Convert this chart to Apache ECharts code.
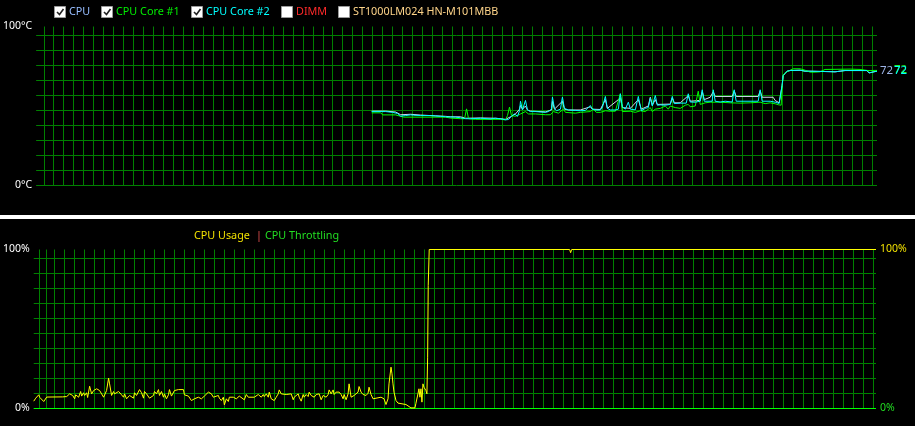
<!DOCTYPE html>
<html><head><meta charset="utf-8">
<script src="https://cdn.jsdelivr.net/npm/echarts@6/dist/echarts.min.js"></script>
<style>html,body{margin:0;padding:0;background:#000;}#c{width:915px;height:426px;}</style>
</head><body><div id="c"></div>
<script>
// ---------- DATA ----------
const tempSeriesNames = ['CPU', 'CPU Core #1', 'CPU Core #2'];
const legendNames = ['CPU', 'CPU Core #1', 'CPU Core #2', 'DIMM', 'ST1000LM024 HN-M101MBB'];
const legendChecked = [true, true, true, false, false];
const loadSeriesNames = ['CPU Usage', 'CPU Throttling'];
const tempAxisLabels = ['0°C', '100°C'];
const pctAxisLabels = ['0%', '100%'];

// temperatures: [elapsed seconds, °C]
const cpuTemp = [[336,46.8],[350,46.8],[360,46.2],[365,44.5],[375,44.8],[376,45.5],[385,44.3],[400,43.8],[410,43.5],[415,43.2],[425,43.2],[430,42.3],[445,42.5],[460,42.3],[470,41.6],[476,43.5],[480,45],[484,48],[485,50.3],[487,48],[490,50],[492,47.5],[495,46.8],[510,46.3],[516,47.5],[517,53],[519,48],[527,53],[529,48],[533,47.5],[545,47.5],[555,49.5],[557,48],[565,47.8],[570,54],[572,48.5],[585,55],[587,49],[595,48.5],[603,54],[606,48],[613,50],[615,55.5],[617,50.5],[620,54],[622,51],[635,51.2],[637,55],[639,52],[645,52],[653,56.5],[655,53],[665,53.5],[667,59],[669,54],[675,55.5],[678,59],[680,56],[697,56],[699,59.5],[701,56],[723,56],[725,59.5],[727,55.5],[738,55.5],[740,53.5],[744,52],[746,51.8],[747,63],[748,69],[750,70.5],[752,71.9],[755,72.3],[765,72.5],[770,71.9],[772,71.3],[774,71.9],[776,71.3],[795,71.6],[797,70.4],[800,71.5],[805,71.9],[810,72.3],[832,72.3],[834,70.8],[836,71.9],[842,72]];
const core1Temp = [[336,45.7],[345,45.7],[347,44.4],[360,44.4],[365,43.5],[368,43],[410,43],[415,42.4],[425,42],[429,42],[431,48.2],[433,42],[440,41.6],[465,41.6],[470,41.3],[472,44],[474,49.3],[476,44],[480,43.5],[485,45],[490,46.5],[493,45],[500,45],[510,44.5],[515,44.5],[518,46.5],[520,47.5],[523,45.5],[525,46],[528,48],[530,46],[540,45.5],[545,46],[555,46.5],[558,48],[561,46],[565,46],[570,47],[575,46.7],[580,46.7],[585,57.7],[587,46.5],[595,46.7],[600,46],[605,47],[610,46.5],[615,49],[617,46.5],[620,48],[625,48.5],[630,50],[633,48],[635,50],[640,49],[645,48.5],[650,50.5],[653,51],[655,49.5],[660,50],[663,59.3],[665,51],[670,52],[675,52.4],[685,52.4],[695,52],[705,51.8],[715,52],[725,52.4],[730,51.5],[735,52],[740,51.4],[743,50.8],[746,50.5],[747,62],[748,69],[750,71],[752,72],[755,72.5],[758,73.4],[765,73.4],[770,72.5],[775,71.3],[780,71.3],[785,71.5],[790,73],[815,73.2],[825,73],[833,72.3],[835,73],[842,72.4]];
const core2Temp = [[336,46.5],[350,46.5],[357,46],[362,45.3],[365,43.6],[370,44],[375,44.4],[376,45.5],[378,44.2],[385,44],[395,44],[405,43.5],[410,43.2],[420,43],[425,42.6],[430,42],[435,42],[445,42.3],[455,41.9],[460,42.3],[465,42],[470,41.3],[473,41.5],[476,43.5],[479,45],[482,43.5],[484,47],[485,53],[487,47.5],[489,48.5],[490,53.5],[492,47.5],[495,46.5],[500,46.5],[510,46],[513,46.5],[516,48],[517,55.6],[519,48.5],[521,47],[522,46],[525,48],[527,55.6],[529,48.5],[533,47.5],[540,47.2],[545,47],[550,47.2],[552,48.5],[555,50.3],[557,48],[561,47.4],[565,47.5],[567,49],[570,56],[572,48.5],[575,47.5],[580,47.5],[583,48],[585,57.7],[587,49.5],[590,48],[593,52.4],[595,48],[600,47.6],[603,56],[606,47],[610,48.5],[613,49],[615,55],[617,50],[619,49.5],[620,56.6],[622,50.5],[625,50.7],[630,50.5],[635,51],[637,56],[639,51.5],[645,51.8],[651,51.8],[653,57.7],[655,52.5],[660,52.4],[665,53],[667,60.2],[669,53],[677,53],[678,60.2],[680,53],[685,52.5],[690,53],[697,52.5],[699,60.2],[701,53],[723,53],[725,60.2],[727,53],[735,53],[740,52.4],[744,51.6],[746,51.6],[747,63],[748,69.2],[750,70.5],[752,71.9],[755,72.3],[765,72.5],[770,71.9],[772,71.3],[774,71.9],[776,71.3],[795,71.6],[797,70.4],[800,71.5],[805,71.9],[810,72.3],[832,72.3],[834,70.8],[836,71.9],[842,71.9]];

// load: [elapsed seconds, %]
const cpuUsage = [[0,4.6],[2,6.5],[5,8.6],[6,7],[8,5.9],[10,4.4],[12,4.4],[13,7.2],[15,7.3],[29,7.3],[31,6.9],[33,7.5],[35,8.3],[36,9.2],[39,8.2],[41,6.1],[42,8.6],[45,7.1],[47,10.7],[48,7.8],[50,9.9],[51,8.2],[53,9.9],[54,6.9],[56,14],[58,9.2],[60,11.3],[61,10.3],[63,12.4],[65,11.9],[66,11.3],[68,9.2],[70,7.1],[71,6.5],[73,11.3],[75,19.1],[76,15.5],[78,8.2],[80,10.7],[81,9.2],[83,10.3],[85,10.7],[86,10.7],[88,8.6],[90,7.1],[91,9.2],[93,6.1],[95,5.0],[96,8.2],[98,8.6],[100,6.5],[101,9.9],[103,8.2],[105,8.6],[106,11.9],[108,9.9],[110,6.5],[111,10.7],[113,9.2],[115,8.2],[116,6.5],[118,6.5],[120,8.2],[121,10.7],[123,9.2],[125,11.9],[126,8.2],[128,10.7],[130,7.1],[131,9.2],[133,6.1],[135,8.6],[136,11.9],[138,7.8],[140,7.8],[141,11.3],[143,10.7],[145,11.9],[150,11.9],[151,8.6],[153,8.2],[155,7.8],[158,5.0],[161,6.1],[165,7.1],[168,6.1],[171,7.8],[175,10.3],[178,9.2],[180,7.1],[181,7.8],[185,8.2],[186,6.5],[188,5.0],[190,7.1],[191,2.3],[193,6.1],[195,4.4],[196,7.1],[198,6.1],[200,7.1],[201,7.8],[203,6.1],[205,6.5],[206,7.8],[208,7.1],[211,5.5],[213,8.8],[215,7.1],[221,7.1],[223,8.2],[225,8.8],[226,8.2],[228,7.1],[230,8.8],[231,7.5],[233,9.2],[235,7.1],[236,10.3],[238,6.1],[240,7.1],[241,5.0],[243,7.1],[245,9.2],[246,11.7],[248,9.2],[250,8.8],[253,8.8],[255,9.2],[258,9.2],[260,5.5],[261,7.1],[263,8.2],[265,9.2],[266,7.1],[268,4.6],[270,8.8],[271,7.1],[273,8.8],[275,7.5],[276,10.3],[278,8.2],[280,8.8],[281,7.1],[283,8.8],[285,8.2],[286,9.2],[288,5.5],[290,8.2],[291,7.5],[293,7.1],[295,8.8],[296,11.7],[298,9.2],[300,11.7],[301,8.8],[303,10.3],[305,9.2],[306,10.3],[308,8.8],[310,6.1],[311,8.8],[313,5.5],[315,9.2],[316,15.5],[318,7.1],[320,7.1],[321,8.2],[323,8.8],[325,10.3],[326,13.8],[328,10.3],[330,8.8],[331,8.8],[333,8.2],[335,9.6],[336,13.4],[338,8.8],[340,6.1],[341,7.1],[348,7.1],[350,8.2],[351,6.1],[353,2.5],[355,6.1],[356,15.5],[358,26.0],[359,21.8],[360,15.5],[361,10.3],[363,5.0],[365,3.4],[366,2.5],[373,2.5],[375,2.0],[378,0.4],[382,0.4],[383,3.3],[385,9.2],[386,12.4],[387,7.1],[388,12.4],[389,4.0],[390,15.5],[391,13.4],[393,11.3],[394,9.2],[394.7,32.3],[395.3,77.4],[396.3,100],[537,100],[538,98],[539,100],[844,100]];
const cpuThrottling = [[0,0],[844,0]];

// ---------- LAYOUT / STYLE ----------
const FONT = '"Noto Sans", "Open Sans", "DejaVu Sans", sans-serif';
const GRID_COLOR = '#008000';
const STEP = 100 * 15 / 159;   // grid rows every 15 px of a 159 px tall plot
const topVLines = [8]; for (let v = 17; v <= 837; v += 10) topVLines.push(v);
const botVLines = [6, 13]; for (let v = 21; v <= 841; v += 10) botVLines.push(v);

const tempColors = ['#d2d8ee', '#00ff00', '#00ffff'];
const tempLabelColors = ['#9db4e6', '#22ee22', '#00ffff'];
const legendTextColors = ['#97bdff', '#00ee00', '#00ffff', '#ff2a2a', '#ffd58a'];

function xAxisCfg(grid, max, vals) {
  return { gridIndex: grid, type: 'value', min: 0, max: max,
    axisLine: { show: false }, axisLabel: { show: false },
    axisTick: { show: false, customValues: vals },
    splitLine: { show: true, showMinLine: true, showMaxLine: true, lineStyle: { color: GRID_COLOR, width: 1 } } };
}
function yGridCfg(grid) {
  return { gridIndex: grid, type: 'value', min: 0, max: 100, interval: STEP,
    axisLine: { show: false }, axisLabel: { show: false }, axisTick: { show: false },
    splitLine: { show: true, showMaxLine: false, lineStyle: { color: GRID_COLOR, width: 1 } } };
}
function yLabelCfg(grid, labels) {
  return { gridIndex: grid, type: 'value', min: 0, max: 100, interval: 100, position: 'left',
    axisLine: { show: false }, axisTick: { show: false }, splitLine: { show: false },
    axisLabel: { show: true, margin: 4, color: '#ffffff', fontFamily: FONT, fontSize: 10.5,
      formatter: v => (v === 0 ? labels[0] : labels[1]) } };
}

const tempData = [cpuTemp, core1Temp, core2Temp];
const series = tempData.map((d, i) => ({
  name: tempSeriesNames[i], type: 'line', xAxisIndex: 0, yAxisIndex: 0, data: d,
  symbol: 'none', z: 3 + i,
  lineStyle: { color: tempColors[i], width: 1 },
  endLabel: { show: true, formatter: p => String(Math.round(p.value[1])), color: tempLabelColors[i],
    fontFamily: FONT, fontSize: 11.5, distance: 3, offset: [i === 0 ? 0 : 14, i === 1 ? -1 : 0] }
}));
series.push({
  name: loadSeriesNames[1], type: 'line', xAxisIndex: 1, yAxisIndex: 2, data: cpuThrottling,
  symbol: 'none', z: 3, lineStyle: { color: '#00ff00', width: 1 },
  endLabel: { show: true, formatter: p => p.value[1] + '%', color: '#22dd22', fontFamily: FONT, fontSize: 10.5, distance: 4 }
});
series.push({
  name: loadSeriesNames[0], type: 'line', xAxisIndex: 1, yAxisIndex: 2, data: cpuUsage,
  symbol: 'none', z: 4, lineStyle: { color: '#ffff00', width: 1 },
  endLabel: { show: true, formatter: p => p.value[1] + '%', color: '#f0e000', fontFamily: FONT, fontSize: 10.5, distance: 4 }
});

// legend (checkbox row) as graphic elements
const boxX = [54, 101, 191, 281, 338];
const graphic = [];
legendNames.forEach((n, i) => {
  graphic.push({ type: 'rect', shape: { x: boxX[i] + 0.5, y: 6.5, width: 11, height: 11 },
    style: { fill: '#ffffff', stroke: '#9a9a9a', lineWidth: 1 } });
  if (legendChecked[i]) {
    graphic.push({ type: 'polyline', shape: { points: [[boxX[i] + 3, 12], [boxX[i] + 5.5, 14.5], [boxX[i] + 9.5, 9]] },
      style: { stroke: '#222222', lineWidth: 1.6, fill: null } });
  }
  graphic.push({ type: 'text', x: boxX[i] + 15, y: 12,
    style: { text: n, fill: legendTextColors[i], font: '10.8px ' + FONT, verticalAlign: 'middle' } });
});
graphic.push({ type: 'rect', shape: { x: 0, y: 215, width: 915, height: 4 }, style: { fill: '#ffffff' } });
graphic.push({ type: 'text', x: 194, y: 235.5, style: { text: loadSeriesNames[0], fill: '#f0e000', font: '10.8px ' + FONT, verticalAlign: 'middle' } });
graphic.push({ type: 'text', x: 256, y: 235.5, style: { text: '|', fill: '#e05050', font: '10.8px ' + FONT, verticalAlign: 'middle' } });
graphic.push({ type: 'text', x: 265, y: 235.5, style: { text: loadSeriesNames[1], fill: '#22dd22', font: '10.8px ' + FONT, verticalAlign: 'middle' } });

const chart = echarts.init(document.getElementById('c'), null, { renderer: 'canvas' });
chart.setOption({
  backgroundColor: '#000000',
  animation: false,
  grid: [
    { left: 35, top: 26.5, width: 842, height: 159 },
    { left: 32, top: 249.5, width: 844, height: 159 }
  ],
  xAxis: [xAxisCfg(0, 842, topVLines), xAxisCfg(1, 844, botVLines)],
  yAxis: [yGridCfg(0), yLabelCfg(0, tempAxisLabels), yGridCfg(1), yLabelCfg(1, pctAxisLabels)],
  series: series,
  graphic: graphic
});
</script>
</body></html>
